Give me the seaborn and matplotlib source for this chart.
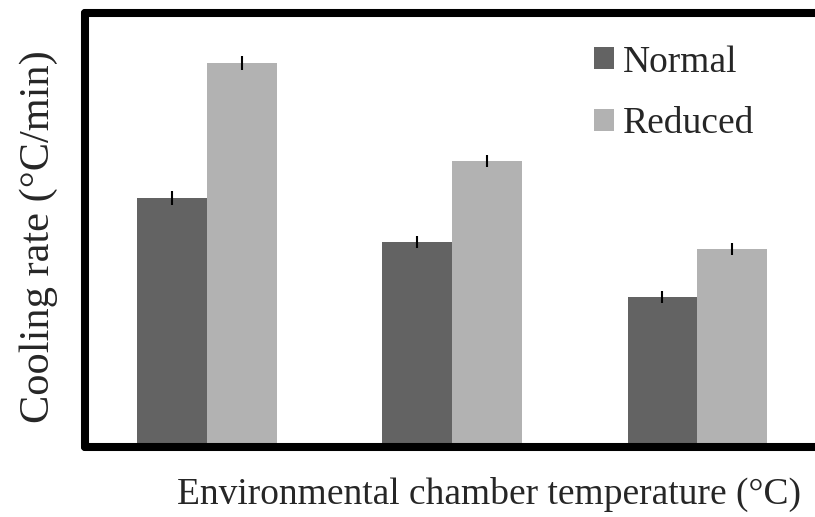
import pandas as pd
import matplotlib.pyplot as plt
import seaborn as sns

# Values (no tick labels shown, arbitrary units)
temperatures = ["T1", "T2", "T3"]
normal_rate = [2.49, 2.05, 1.50]
reduced_rate = [3.84, 2.86, 1.98]
normal_err = [0.07, 0.06, 0.06]
reduced_err = [0.07, 0.06, 0.06]

data = pd.DataFrame({
    "Temperature": temperatures * 2,
    "Rate": normal_rate + reduced_rate,
    "Condition": ["Normal"] * 3 + ["Reduced"] * 3,
})

sns.set_style("white")
plt.rcParams["font.family"] = ["Liberation Serif", "DejaVu Serif"]

fig = plt.figure(figsize=(8.15, 5.17), dpi=100)
ax = fig.add_axes([0.104, 0.135, 0.902, 0.840])

sns.barplot(data=data, x="Temperature", y="Rate", hue="Condition",
            palette=["#636363", "#b2b2b2"], width=0.57, errorbar=None,
            linewidth=0, ax=ax)

# error bars on top of each bar
errs = [normal_err, reduced_err]
for cont, err in zip(ax.containers, errs):
    xs = [p.get_x() + p.get_width() / 2 for p in cont]
    ys = [p.get_height() for p in cont]
    ax.errorbar(xs, ys, yerr=err, fmt="none", ecolor="black",
                elinewidth=1.5, capsize=0)

ax.set_xlim(-0.5, 2.5)
ax.set_ylim(0, 4.34)
ax.set_xticks([])
ax.set_yticks([])
ax.set_xlabel("Environmental chamber temperature (°C)", fontsize=27)
ax.set_ylabel("Cooling rate (°C/min)", fontsize=30.5)
ax.xaxis.set_label_coords(0.55, -0.068)
ax.yaxis.set_label_coords(-0.036, 0.486)

for side in ["left", "bottom", "top", "right"]:
    ax.spines[side].set_visible(True)
    ax.spines[side].set_color("black")
    ax.spines[side].set_linewidth(5.8)
    ax.spines[side].set_capstyle("round")

ax.legend(title=None, frameon=False, fontsize=27, loc="upper left",
          bbox_to_anchor=(0.693, 0.926), handlelength=0.52, handleheight=0.52,
          handletextpad=0.25, labelspacing=0.72, borderaxespad=0, borderpad=0)

plt.savefig("out.png", dpi=100)
